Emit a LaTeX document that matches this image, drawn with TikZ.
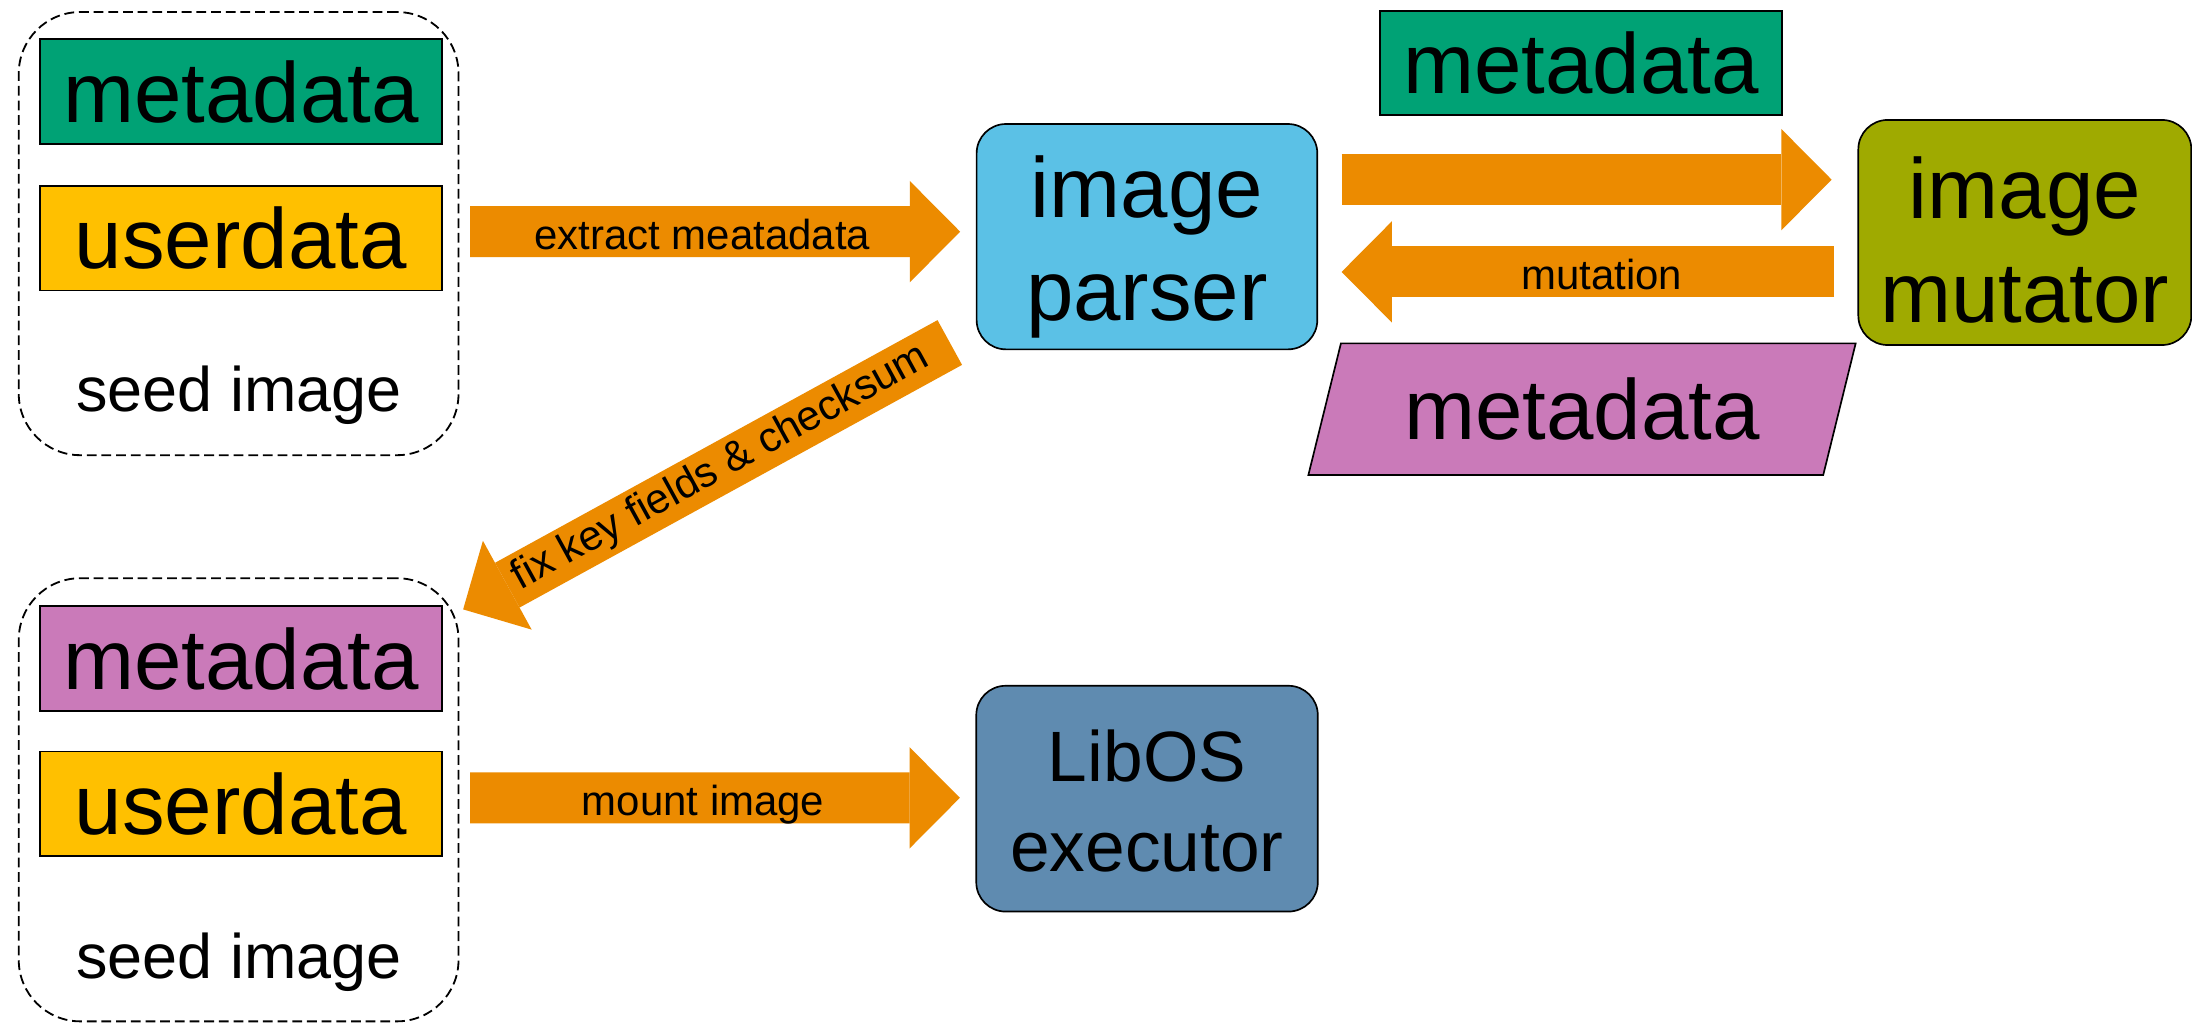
\documentclass[tikz,border=0pt]{standalone}
\usepackage{fontspec}
\setmainfont{Liberation Sans}
\usetikzlibrary{arrows.meta,calc}
\definecolor{cgreen}{HTML}{00A275}
\definecolor{cyellow}{HTML}{FFC000}
\definecolor{cblue}{HTML}{5BC1E6}
\definecolor{colive}{HTML}{9FAA00}
\definecolor{cpink}{HTML}{CA7AB9}
\definecolor{csteel}{HTML}{5F8BB0}
\definecolor{corange}{HTML}{EC8B00}
\begin{document}
\begin{tikzpicture}[x=1pt,y=-1pt,
  every node/.style={outer sep=0pt},
  databox/.style={draw=black, line width=1.2pt, minimum width=287.5pt, minimum height=75pt, inner sep=0pt, font=\fontsize{61}{74}\selectfont},
  roundbox/.style={draw=black, line width=1.2pt, rounded corners=21pt, inner sep=0pt},
  seedbox/.style={draw=black, line width=1.3pt, dash pattern=on 7pt off 3.5pt, rounded corners=44pt, minimum width=314.6pt, minimum height=317pt, inner sep=0pt},
  bigtext/.style={font=\fontsize{61}{74}\selectfont, align=center, inner sep=0pt},
  libtext/.style={font=\fontsize{51}{64.4}\selectfont, align=center, inner sep=0pt},
  seedtext/.style={font=\fontsize{45}{54}\selectfont, inner sep=0pt, anchor=base},
  flow/.style={draw=corange, line width=36.5pt, -{Triangle[length=36pt, width=72.5pt, line width=0pt]}},
  flowlabel/.style={font=\fontsize{30}{36}\selectfont, inner sep=0pt, text=black},
]
\fill[white] (0,0) rectangle (1568,732);
\useasboundingbox (0,0) rectangle (1568,732);

% seed image groups
\node[seedbox] (seedA) at (170.7,167.1) {};
\node[databox, fill=cgreen] (metaA) at (172.3,65.6) {metadata};
\node[databox, fill=cyellow] (userA) at (172.3,170.4) {userdata};
\node[seedtext] (seedAtext) at (171,294.5) {seed image};

\node[seedbox] (seedB) at (170.7,572.1) {};
\node[databox, fill=cpink] (metaB) at (172.3,471.2) {metadata};
\node[databox, fill=cyellow] (userB) at (172.3,575) {userdata};
\node[seedtext] (seedBtext) at (171,699.6) {seed image};

% processing boxes
\node[roundbox, fill=cblue, minimum width=243.7pt, minimum height=161.2pt] (parser) at (820.45,169.3) {};
\node[bigtext] (parsertext) at ($(parser.center)+(0,7.2)$) {image\\parser};

\node[roundbox, fill=colive, minimum width=238.2pt, minimum height=161pt] (mutator) at (1448.4,166.3) {};
\node[bigtext] (mutatortext) at ($(mutator.center)+(0,5.4)$) {image\\mutator};

\node[roundbox, fill=csteel, minimum width=244.3pt, minimum height=161.5pt] (libos) at (820.5,571.3) {};
\node[libtext] (libostext) at ($(libos.center)+(0,2)$) {LibOS\\executor};

\node[databox, fill=cgreen, minimum width=287.8pt, minimum height=74.4pt] (metaTop) at (1131,45.1) {metadata};

\draw[line width=1.2pt, fill=cpink] (935.9,339.8) -- (959.2,245.6) -- (1327.4,245.6) -- (1304.2,339.8) -- cycle;
\node[font=\fontsize{61}{74}\selectfont, inner sep=0pt] (metaPink) at (1131.5,292.7) {metadata};

% connectors
\coordinate (exS) at ($(seedA.east)+(8.2,-1.4)$);
\coordinate (exE) at ($(parser.west)+(-11.8,-3.6)$);
\draw[flow] (exS) -- node[flowlabel, pos=0.474, yshift=-2pt] (exL) {extract meatadata} (exE);

\coordinate (toS) at ($(parser.east)+(17.4,-40.8)$);
\coordinate (toE) at ($(mutator.west)+(-19.1,-37.8)$);
\draw[flow] (toS) -- (toE);

\coordinate (muS) at ($(mutator.west)+(-17.3,28.2)$);
\coordinate (muE) at ($(parser.east)+(17.4,25.2)$);
\draw[flow] (muS) -- node[flowlabel, pos=0.472, yshift=-2pt] (muL) {mutation} (muE);

\coordinate (fxS) at ($(parser.south west)+(-19.2,-4.9)$);
\coordinate (fxE) at ($(seedB.north east)+(3.3,22.3)$);
\draw[flow] (fxS) -- node[flowlabel, pos=0.47, sloped] (fxL) {fix key fields \& checksum} (fxE);

\coordinate (moS) at ($(seedB.east)+(8.2,-1.4)$);
\coordinate (moE) at ($(libos.west)+(-11.75,-0.6)$);
\draw[flow] (moS) -- node[flowlabel, pos=0.476, yshift=-5pt] (moL) {mount image} (moE);
\end{tikzpicture}
\end{document}
